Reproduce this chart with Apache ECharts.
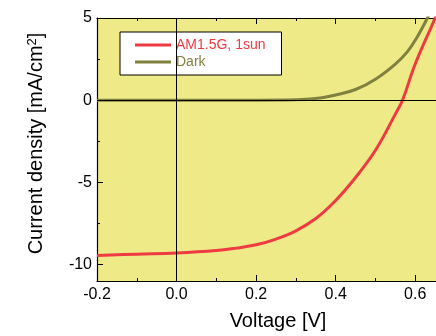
<!DOCTYPE html>
<html>
<head>
<meta charset="utf-8">
<script src="https://cdn.jsdelivr.net/npm/echarts@6/dist/echarts.min.js"></script>
<style>
  html, body { margin: 0; padding: 0; background: #ffffff; }
  #chart { width: 436px; height: 336px; }
</style>
</head>
<body>
<div id="chart"></div>
<script>
// J–V characteristics of the solar cell: illuminated vs. dark
const voltageLight = [-0.2, -0.1, 0.0, 0.1, 0.15, 0.2, 0.25, 0.3, 0.35, 0.4, 0.45, 0.5, 0.55, 0.568, 0.6, 0.65, 0.7];
const currentLight = [-9.45, -9.37, -9.3, -9.15, -9.0, -8.8, -8.45, -7.95, -7.2, -6.1, -4.7, -3.05, -0.85, 0.0, 2.2, 5.0, 8.0];

const voltageDark = [-0.2, 0.0, 0.2, 0.3, 0.35, 0.4, 0.45, 0.5, 0.55, 0.58, 0.605, 0.63, 0.66, 0.7];
const currentDark = [0.0, 0.0, 0.0, 0.02, 0.1, 0.32, 0.65, 1.28, 2.2, 2.94, 3.85, 4.97, 6.5, 8.8];

const seriesNames = ['AM1.5G, 1sun', 'Dark'];
const xTickLabels = [-0.2, 0.0, 0.2, 0.4, 0.6];
const yTickLabels = [-10, -5, 0, 5];

const FONT = 'Liberation Sans, Arial, Helvetica, sans-serif';
const RED = '#ee3a42';
const OLIVE = '#80803f';

const pairs = (xs, ys) => xs.map((x, i) => [x, ys[i]]);
const onList = (list, v) => list.some(t => Math.abs(t - v) < 1e-6);

const chart = echarts.init(document.getElementById('chart'), null, { renderer: 'canvas' });

const xCommon = {
  type: 'value',
  min: -0.2,
  max: 0.7,
  interval: 0.2,
  axisLine: { show: true, onZero: false, lineStyle: { color: '#000', width: 1.2 } },
  axisTick: { show: true, inside: true, length: 6, lineStyle: { color: '#000', width: 1 } },
  minorTick: { show: true, splitNumber: 2, length: 3, lineStyle: { color: '#000', width: 1 } },
  splitLine: { show: false },
  minorSplitLine: { show: false }
};

const yCommon = {
  type: 'value',
  min: -11,
  max: 5,
  splitNumber: 3,
  axisLine: { show: true, onZero: false, lineStyle: { color: '#000', width: 1.2 } },
  axisTick: { show: true, inside: true, length: 6, lineStyle: { color: '#000', width: 1 } },
  minorTick: { show: true, splitNumber: 2, length: 3, lineStyle: { color: '#000', width: 1 } },
  splitLine: { show: false },
  minorSplitLine: { show: false }
};

chart.setOption({
  animation: false,
  backgroundColor: '#ffffff',
  textStyle: { fontFamily: FONT },
  grid: {
    left: 97,
    top: 18,
    width: 358,
    height: 263,
    containLabel: false,
    outerBoundsMode: 'none',
    show: true,
    backgroundColor: '#eeea87',
    borderWidth: 0
  },
  legend: {
    data: seriesNames,
    orient: 'vertical',
    left: 120,
    top: 32,
    backgroundColor: '#ffffff',
    borderColor: '#000000',
    borderWidth: 1,
    borderRadius: 0,
    padding: [6, 16, 6, 15],
    itemGap: 3,
    itemWidth: 36,
    itemHeight: 3,
    icon: 'rect',
    textStyle: { fontSize: 14, fontFamily: FONT, color: 'inherit' },
    selectedMode: false
  },
  xAxis: [
    Object.assign({}, xCommon, {
      position: 'bottom',
      name: 'Voltage [V]',
      nameLocation: 'middle',
      nameGap: 30,
      nameTextStyle: { fontSize: 20, color: '#000', fontFamily: FONT, padding: [0, 0, 0, 4] },
      axisLabel: {
        show: true, margin: 6, fontSize: 16, color: '#000', fontFamily: FONT,
        formatter: v => onList(xTickLabels, v) ? v.toFixed(1) : ''
      }
    }),
    Object.assign({}, xCommon, {
      position: 'top',
      axisLabel: { show: false }
    })
  ],
  yAxis: [
    Object.assign({}, yCommon, {
      position: 'left',
      name: 'Current density [mA/cm{sup|2}]',
      nameLocation: 'middle',
      nameGap: 50,
      nameTextStyle: {
        fontSize: 20, color: '#000', fontFamily: FONT,
        padding: [0, 0, 0, 12],
        rich: {
          sup: { fontSize: 13, color: '#000', fontFamily: FONT, verticalAlign: 'top', padding: [0, 0, 8, 0] }
        }
      },
      axisLabel: {
        show: true, margin: 5, fontSize: 16, color: '#000', fontFamily: FONT,
        formatter: v => onList(yTickLabels, v) ? String(Math.round(v)) : ''
      }
    })
  ],
  series: [
    {
      // zero reference lines, kept beneath the curves
      type: 'line',
      name: 'zero',
      z: 1,
      data: [[0, 0]],
      symbol: 'none',
      lineStyle: { width: 0 },
      silent: true,
      markLine: {
        silent: true,
        symbol: ['none', 'none'],
        label: { show: false },
        lineStyle: { color: '#000', width: 1, type: 'solid' },
        data: [{ xAxis: 0 }, { yAxis: 0 }]
      }
    },
    {
      type: 'line',
      name: seriesNames[1],
      z: 3,
      data: pairs(voltageDark, currentDark),
      smooth: 0.4,
      symbol: 'none',
      clip: true,
      itemStyle: { color: OLIVE },
      lineStyle: { color: OLIVE, width: 3 }
    },
    {
      type: 'line',
      name: seriesNames[0],
      z: 4,
      data: pairs(voltageLight, currentLight),
      smooth: 0.4,
      symbol: 'none',
      clip: true,
      itemStyle: { color: RED },
      lineStyle: { color: RED, width: 3 }
    }
  ]
});
</script>
</body>
</html>
